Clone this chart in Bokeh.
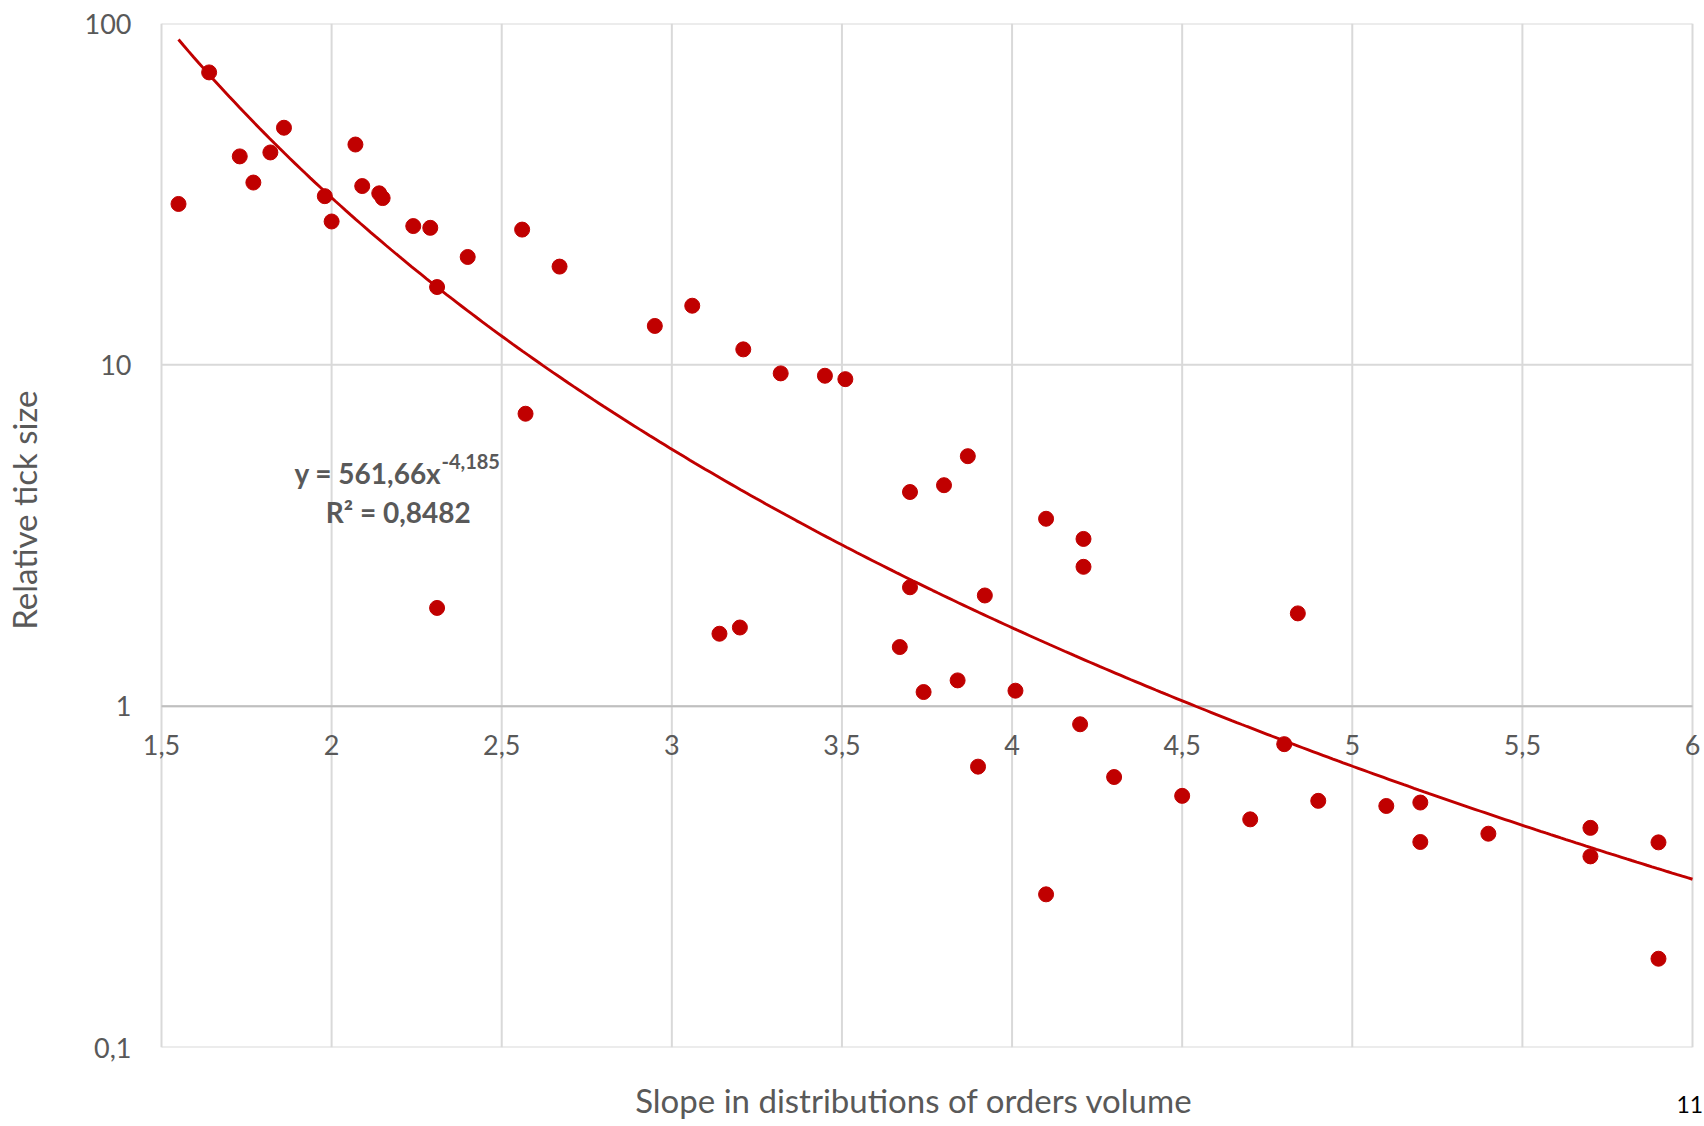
import numpy as np
from bokeh.plotting import figure
from bokeh.models import ColumnDataSource, FixedTicker, LabelSet, Label
from bokeh.core.properties import value
from bokeh.embed import file_html
from bokeh.resources import INLINE

# ---- data ----
slope = [1.55, 1.64, 1.73, 1.77, 1.82, 1.86, 1.98, 2.00, 2.07, 2.09,
         2.14, 2.15, 2.24, 2.29, 2.31, 2.40, 2.56, 2.67, 2.95, 3.06,
         3.21, 3.32, 3.45, 3.51, 2.57, 2.31, 3.70, 3.80, 3.87, 4.10,
         4.21, 4.21, 3.70, 3.92, 3.14, 3.20, 3.67, 3.74, 3.84, 4.01,
         4.20, 3.90, 4.30, 4.10, 4.50, 4.70, 4.80, 4.90, 5.10, 5.20,
         5.20, 5.40, 5.70, 5.70, 5.90, 5.90, 4.84]
rel_tick = [29.6, 71.9, 40.8, 34.2, 41.9, 49.5, 31.2, 26.3, 44.2, 33.4,
            31.8, 30.8, 25.5, 25.2, 16.9, 20.7, 24.9, 19.4, 13.0, 14.9,
            11.1, 9.44, 9.29, 9.08, 7.19, 1.94, 4.24, 4.44, 5.40, 3.54,
            3.09, 2.56, 2.23, 2.11, 1.63, 1.70, 1.49, 1.10, 1.19, 1.11,
            0.885, 0.665, 0.620, 0.281, 0.546, 0.466, 0.774, 0.528, 0.510, 0.522,
            0.400, 0.423, 0.440, 0.363, 0.399, 0.182, 1.87]

# power trend line y = a * x^b (as printed on chart)
trend_a = 561.66
trend_b = -4.185
trend_x_start = 1.55
trend_x_end = 6.0

x_min, x_max = 1.5, 6.0
y_min, y_max = 0.1, 100.0
x_axis_cross = 1.0          # horizontal axis crosses the vertical one at y = 1
x_ticks = [1.5, 2, 2.5, 3, 3.5, 4, 4.5, 5, 5.5, 6]
x_tick_labels = ["1,5", "2", "2,5", "3", "3,5", "4", "4,5", "5", "5,5", "6"]
y_ticks = [0.1, 1, 10, 100]
y_tick_labels = ["0,1", "1", "10", "100"]
page_number = "11"
page_number_x = 6.006

RED = "#C00000"
GRAY = "#595959"
GRID = "#D9D9D9"
AXIS = "#BFBFBF"
FONT = "Lato"

# layout (pixels)
DATA_W = 1531
PX_PER_X = DATA_W / (x_max - x_min)
PAD_L, PAD_R = 22, 13
FRAME_H = 1024

p = figure(frame_width=DATA_W + PAD_L + PAD_R, frame_height=FRAME_H,
           y_axis_type="log",
           x_range=(x_min - PAD_L / PX_PER_X, x_max + PAD_R / PX_PER_X),
           y_range=(y_min, y_max),
           output_backend="svg", toolbar_location=None,
           min_border_left=138, min_border_right=0,
           min_border_top=23, min_border_bottom=79)
p.background_fill_color = "white"
p.border_fill_color = "white"
p.outline_line_color = None
p.xgrid.visible = False
p.ygrid.visible = False

# grid lines (including the box edges)
p.segment(x0=[x_min] * len(y_ticks), x1=[x_max] * len(y_ticks), y0=y_ticks, y1=y_ticks,
          line_color=GRID, line_width=2)
p.segment(x0=x_ticks, x1=x_ticks, y0=[y_min] * len(x_ticks), y1=[y_max] * len(x_ticks),
          line_color=GRID, line_width=2)
p.segment(x0=[x_min], x1=[x_max], y0=[x_axis_cross], y1=[x_axis_cross],
          line_color=AXIS, line_width=2)

# y axis
p.yaxis.ticker = FixedTicker(ticks=y_ticks)
p.yaxis.major_label_overrides = dict(zip(y_ticks, y_tick_labels))
p.yaxis.axis_line_color = None
p.yaxis.major_tick_line_color = None
p.yaxis.minor_tick_line_color = None
p.yaxis.major_tick_out = 0
p.yaxis.major_tick_in = 0
p.yaxis.major_label_standoff = 8
p.yaxis.major_label_text_font = FONT
p.yaxis.major_label_text_font_size = "27px"
p.yaxis.major_label_text_color = GRAY
p.yaxis.axis_label = "\u00a0" * 6 + "Relative tick size"
p.yaxis.axis_label_text_font = FONT
p.yaxis.axis_label_text_font_style = "normal"
p.yaxis.axis_label_text_font_size = "33px"
p.yaxis.axis_label_text_color = GRAY
p.yaxis.axis_label_standoff = 38

# bottom axis: title and page number only
p.xaxis.ticker = FixedTicker(ticks=[page_number_x])
p.xaxis.major_label_overrides = {page_number_x: page_number}
p.xaxis.axis_line_color = None
p.xaxis.major_tick_line_color = None
p.xaxis.minor_tick_line_color = None
p.xaxis.major_tick_out = 0
p.xaxis.major_tick_in = 0
p.xaxis.major_label_standoff = 48
p.xaxis.major_label_text_font = FONT
p.xaxis.major_label_text_font_size = "23px"
p.xaxis.major_label_text_color = "black"
p.xaxis.axis_label = "Slope in distributions of orders volume" + "\u00a0" * 2
p.xaxis.axis_label_text_font = FONT
p.xaxis.axis_label_text_font_style = "normal"
p.xaxis.axis_label_text_font_size = "33px"
p.xaxis.axis_label_text_color = GRAY
p.xaxis.axis_label_standoff = -36

# x tick labels under the crossing line y = 1
xt_src = ColumnDataSource(dict(x=x_ticks, y=[x_axis_cross] * len(x_ticks), text=x_tick_labels))
p.add_layout(LabelSet(x="x", y="y", text="text", source=xt_src,
                      text_align="center", text_baseline="alphabetic",
                      y_offset=-49, text_font=value(FONT), text_font_size=value("27px"),
                      text_color=GRAY))

# trend line
tx = np.linspace(trend_x_start, trend_x_end, 300)
ty = trend_a * tx ** trend_b
p.line(tx, ty, line_color=RED, line_width=2.9)

# points
p.scatter(slope, rel_tick, size=15, marker="circle", fill_color=RED, line_color=RED)

# equation labels
p.add_layout(Label(x=2.3228, y=4.814, text="y = 561,66x", text_align="right",
                   text_baseline="alphabetic", text_font=FONT, text_font_size="28px",
                   text_font_style="bold", text_color=GRAY))
p.add_layout(Label(x=2.3228, y=5.194, text="-4,185", text_align="left",
                   text_baseline="alphabetic", text_font=FONT, text_font_size="20px",
                   text_font_style="bold", text_color=GRAY))
p.add_layout(Label(x=2.196, y=3.70, text="R² = 0,8482", text_align="center",
                   text_baseline="alphabetic", text_font=FONT, text_font_size="28px",
                   text_font_style="bold", text_color=GRAY))

open("out.html", "w").write(file_html(p, INLINE))
